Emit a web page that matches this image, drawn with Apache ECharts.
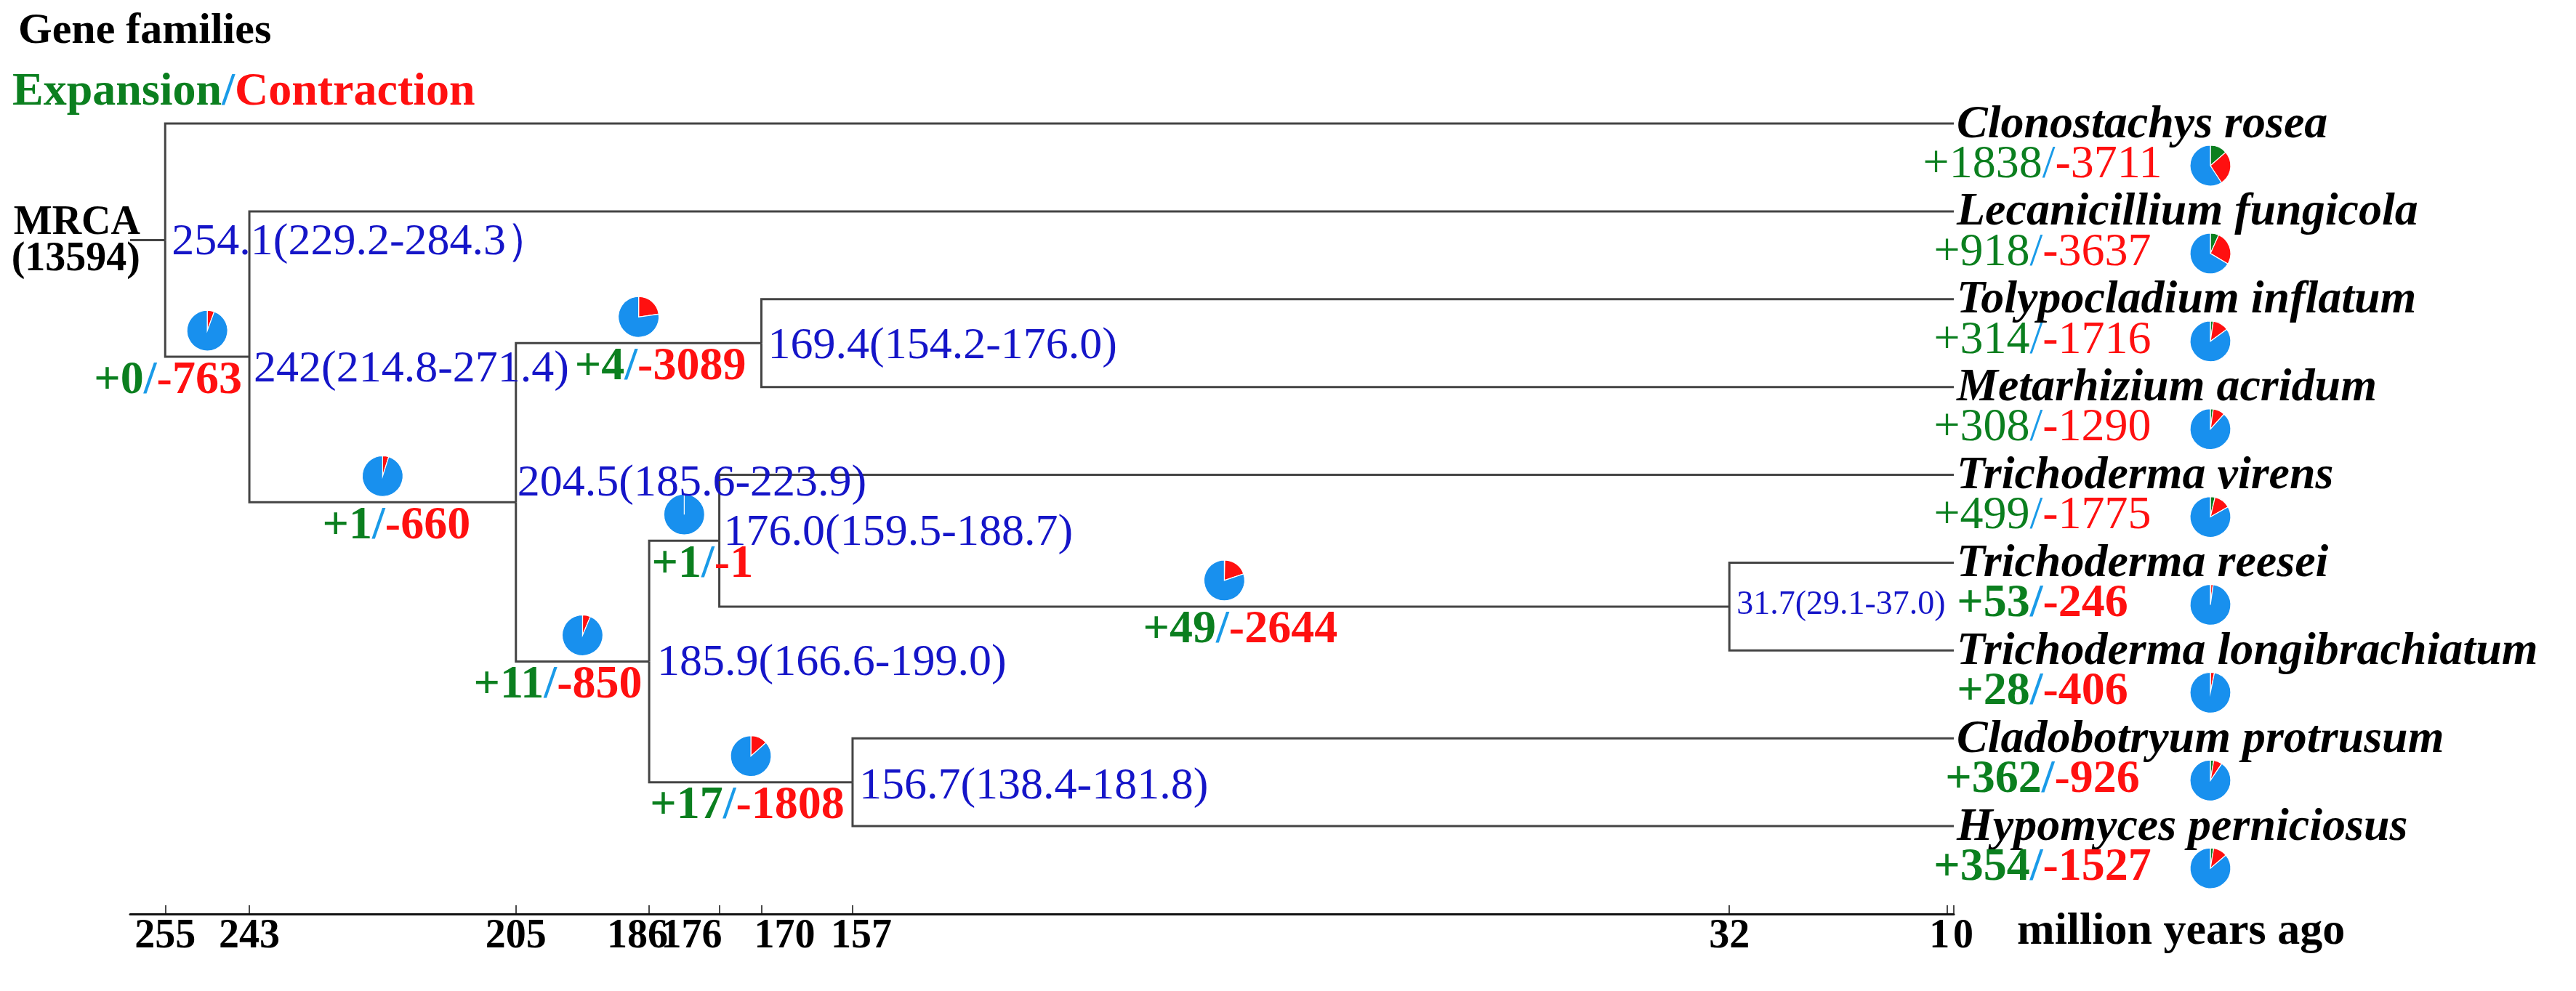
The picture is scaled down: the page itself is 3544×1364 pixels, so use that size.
<!DOCTYPE html>
<html>
<head>
<meta charset="utf-8">
<title>Gene families expansion / contraction</title>
<script src="https://cdn.jsdelivr.net/npm/echarts@6/dist/echarts.min.js"></script>
<style>
html, body { margin: 0; padding: 0; background: #fff; }
#main { width: 3544px; height: 1364px; }
</style>
</head>
<body>
<div id="main"></div>
<script>
// tips, top to bottom
var species = ['Clonostachys rosea', 'Lecanicillium fungicola', 'Tolypocladium inflatum', 'Metarhizium acridum',
  'Trichoderma virens', 'Trichoderma reesei', 'Trichoderma longibrachiatum', 'Cladobotryum protrusum', 'Hypomyces perniciosus'];
var tipGain = [1838, 918, 314, 308, 499, 53, 28, 362, 354];
var tipLoss = [3711, 3637, 1716, 1290, 1775, 246, 406, 926, 1527];
var totalFamilies = 13594;

// internal nodes (n0 = root). children: 't' = tip index, 'n' = node index
var nodeAges = [255, 243, 205, 170, 186, 176, 32, 157];
var nodeDates = ['254.1(229.2-284.3）', '242(214.8-271.4)', '204.5(185.6-223.9)', '169.4(154.2-176.0)',
  '185.9(166.6-199.0)', '176.0(159.5-188.7)', '31.7(29.1-37.0)', '156.7(138.4-181.8)'];
var nodeChildren = [['t0', 'n1'], ['t1', 'n2'], ['n3', 'n4'], ['t2', 't3'], ['n5', 'n7'], ['t4', 'n6'], ['t5', 't6'], ['t7', 't8']];
// gain / loss on the branch leading to each node
var nodeGain = [null, 0, 1, 4, 11, 1, 49, 17];
var nodeLoss = [null, 763, 660, 3089, 850, 1, 2644, 1808];
var rootStart = 260;
var tickValues = [255, 243, 205, 186, 176, 170, 157, 32, 1, 0];

// styling
var FONT = '"Liberation Serif", "Times New Roman", serif';
var GREEN = '#0b7f1f', RED = '#ff1010', SLASH = '#1a9be8', DATE_BLUE = '#1515c8', PIE_BLUE = '#1890ee';
var dateShift = [[9, 3], [6, 18], [2, -26], [9, 4], [11, 2], [6, -11], [10, -2], [9, 6]];
var dateSize = [62, 62, 62, 62, 62, 62, 46, 62];
var gainShift = [0, -54, 19, 30, -34, 25, 22, -5];
var tickShift = { 186: -16, 176: -38, 170: 32, 157: 12, 1: -10, 0: 13 };
var tipBold = [false, false, false, false, false, true, true, true, true];

function rowOf(id) {
  if (id[0] === 't') return +id.slice(1);
  var c = nodeChildren[+id.slice(1)];
  return (rowOf(c[0]) + rowOf(c[1])) / 2;
}
function ageOf(id) { return id[0] === 't' ? 0 : nodeAges[+id.slice(1)]; }

var nodeRows = nodeAges.map(function (a, i) { return rowOf('n' + i); });
var parentOf = {};
var branches = [[rootStart, nodeRows[0], nodeAges[0], nodeRows[0]]];
nodeChildren.forEach(function (c, i) {
  c.forEach(function (id) {
    branches.push([nodeAges[i], nodeRows[i], ageOf(id), rowOf(id)]);
    parentOf[id] = i;
  });
});

function countRich(size, bold) {
  var w = bold ? 'bold' : 'normal';
  return {
    g: { color: GREEN, fontSize: size, fontWeight: w, fontFamily: FONT },
    s: { color: SLASH, fontSize: size, fontWeight: w, fontFamily: FONT },
    r: { color: RED, fontSize: size, fontWeight: w, fontFamily: FONT }
  };
}
function countText(g, l) { return '{g|+' + g + '}{s|/}{r|-' + l + '}'; }

function pieItem(dx, dy) {
  return function (params, api) {
    var c = api.coord([api.value(0), api.value(1)]);
    var cx = c[0] + dx, cy = c[1] + dy;
    var g = api.value(2), l = api.value(3);
    var parts = [[g, GREEN], [l, RED], [totalFamilies - g - l, PIE_BLUE]];
    var a = -Math.PI / 2, kids = [];
    parts.forEach(function (p) {
      var span = p[0] / totalFamilies * Math.PI * 2;
      if (span > 0) {
        kids.push({
          type: 'sector',
          shape: { cx: cx, cy: cy, r: 28, r0: 0, startAngle: a, endAngle: a + span, clockwise: true },
          style: { fill: p[1], stroke: '#fff', lineWidth: 1.2 }
        });
      }
      a += span;
    });
    return { type: 'group', children: kids };
  };
}

var branchPies = [], branchCounts = [];
for (var i = 1; i < nodeAges.length; i++) {
  var mid = (nodeAges[parentOf['n' + i]] + nodeAges[i]) / 2;
  branchPies.push([mid, nodeRows[i], nodeGain[i], nodeLoss[i]]);
  branchCounts.push({
    value: [mid, nodeRows[i]],
    label: { formatter: countText(nodeGain[i], nodeLoss[i]), offset: [gainShift[i], 33] }
  });
}
var tipPies = species.map(function (s, k) { return [0, k, tipGain[k], tipLoss[k]]; });
var tipCounts = species.map(function (s, k) {
  return {
    value: [0, k],
    label: { formatter: countText(tipGain[k], tipLoss[k]), rich: countRich(64, tipBold[k]) }
  };
});
var dateData = nodeAges.map(function (a, k) {
  return {
    value: [a, nodeRows[k]],
    label: { formatter: nodeDates[k], offset: [dateShift[k][0], dateShift[k][1]], fontSize: dateSize[k] }
  };
});

var tickRich = {};
tickValues.forEach(function (v) {
  var s = tickShift[v] || 0;
  tickRich['t' + v] = {
    fontSize: 56, fontWeight: 'bold', fontFamily: FONT, color: '#000',
    padding: s < 0 ? [0, -2 * s, 0, 0] : [0, 0, 0, 2 * s]
  };
});

var textSeries = { type: 'scatter', symbolSize: 0, clip: false, silent: true, itemStyle: { opacity: 1 } };
function textLayer(extra) { return Object.assign({}, textSeries, extra); }

var chart = echarts.init(document.getElementById('main'));
chart.setOption({
  animation: false,
  title: [
    { text: 'Gene families', left: 20, top: 8,
      textStyle: { fontFamily: FONT, fontSize: 60, fontWeight: 'bold', color: '#000' } },
    { text: '{g|Expansion}{s|/}{r|Contraction}', left: 12, top: 90,
      textStyle: { rich: countRich(64, true) } }
  ],
  grid: { left: 179, right: 856, top: 170, bottom: 106 },
  xAxis: {
    type: 'value', inverse: true, min: 0, max: rootStart,
    axisLine: { onZero: false, lineStyle: { color: '#111', width: 3 } },
    axisTick: { customValues: tickValues, inside: true, length: 12, lineStyle: { color: '#111', width: 1.5 } },
    axisLabel: {
      customValues: tickValues, margin: 4,
      formatter: function (v) { return '{t' + v + '|' + v + '}'; },
      rich: tickRich
    },
    splitLine: { show: false },
    name: 'million years ago', nameLocation: 'start', nameGap: 87,
    nameTextStyle: { fontFamily: FONT, fontSize: 62, fontWeight: 'bold', color: '#000',
      align: 'left', verticalAlign: 'top', lineHeight: 50 }
  },
  yAxis: { type: 'value', inverse: true, min: 0, max: 9, show: false },
  series: [
    {
      type: 'custom', name: 'branches', clip: false, silent: true,
      data: branches,
      renderItem: function (params, api) {
        var p = api.coord([api.value(0), api.value(1)]);
        var q = api.coord([api.value(0), api.value(3)]);
        var r = api.coord([api.value(2), api.value(3)]);
        return { type: 'polyline', shape: { points: [p, q, r] },
          style: { stroke: '#444', lineWidth: 3, fill: null } };
      }
    },
    { type: 'custom', name: 'branchPies', clip: false, silent: true, data: branchPies, renderItem: pieItem(0, -36) },
    { type: 'custom', name: 'tipPies', clip: false, silent: true, data: tipPies, renderItem: pieItem(353, 58) },
    textLayer({
      name: 'species',
      data: species.map(function (s, k) { return { value: [0, k], name: s }; }),
      label: { show: true, position: 'right', distance: 4, offset: [0, 2], formatter: '{b}',
        fontFamily: FONT, fontSize: 64, fontStyle: 'italic', fontWeight: 'bold', color: '#000' }
    }),
    textLayer({
      name: 'tipCounts', data: tipCounts,
      label: { show: true, position: 'inside', offset: [122, 57], align: 'center' }
    }),
    textLayer({
      name: 'branchCounts', data: branchCounts,
      label: { show: true, position: 'inside', align: 'center', rich: countRich(64, true) }
    }),
    textLayer({
      name: 'dates', data: dateData,
      label: { show: true, position: 'inside', align: 'left', fontFamily: FONT, color: DATE_BLUE }
    }),
    textLayer({
      name: 'root',
      data: [[rootStart, nodeRows[0]]],
      label: { show: true, position: 'left', distance: -14, offset: [0, 2],
        formatter: '{b|MRCA}\n{b|(' + totalFamilies + ')}',
        rich: {
          b: { fontFamily: FONT, fontSize: 56, fontWeight: 'bold', color: '#000', lineHeight: 50 }
        } }
    })
  ]
});
</script>
</body>
</html>
